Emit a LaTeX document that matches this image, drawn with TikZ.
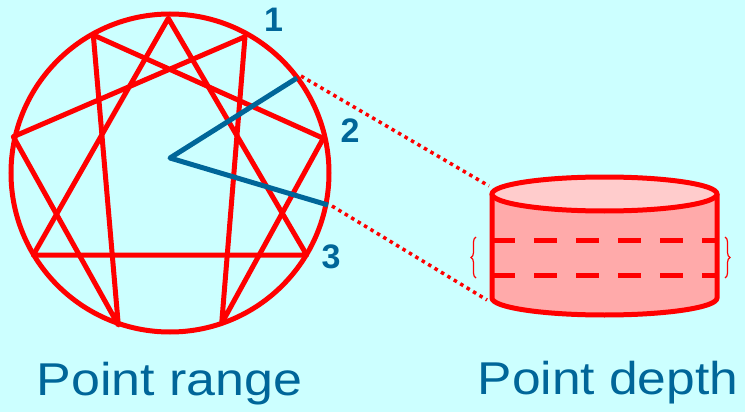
\documentclass[tikz,border=0pt]{standalone}
\usepackage{fontspec}
\setmainfont{Liberation Sans}
\usetikzlibrary{decorations.pathreplacing}
\definecolor{bgcol}{HTML}{CCFFFF}
\definecolor{tblue}{HTML}{006699}
\definecolor{cylbody}{HTML}{FFAAAA}
\definecolor{cyltop}{HTML}{FFCCCC}
\begin{document}
\begin{tikzpicture}[x=1pt,y=-1pt,
  starline/.style={draw=red,line width=5pt,line cap=round,line join=round},
  blueline/.style={draw=tblue,line width=5pt,line join=round},
  dotline/.style={draw=red,line width=3.5pt,dash pattern=on 3.5pt off 4pt},
  numlabel/.style={text=tblue,font=\fontsize{34}{34}\selectfont\bfseries,inner sep=0pt},
  caption/.style={text=tblue,font=\fontsize{46}{46}\selectfont,inner sep=0pt,anchor=base},
  bracestyle/.style={draw=red,line width=1.2pt,decorate,decoration={brace,amplitude=5pt}},
  dashline/.style={draw=red,line width=5pt,dash pattern=on 23pt off 19pt}]
\fill[bgcol] (0,0) rectangle (745,412);
\useasboundingbox (0,0) rectangle (745,412);

% enneagram circle
\node[circle,draw=red,line width=5pt,minimum size=318pt,inner sep=0pt] (ring) at (170,173) {};
\coordinate (T)  at (168.3,18.3);
\coordinate (UR) at (245,36.7);
\coordinate (R)  at (323.3,138.3);
\coordinate (LR) at (306.7,255);
\coordinate (BR) at (221.7,323.3);
\coordinate (BL) at (118.3,325);
\coordinate (LL) at (33.3,255);
\coordinate (L)  at (13.3,136.7);
\coordinate (UL) at (93.3,35);
\draw[starline] (T) -- (LR) -- (LL) -- cycle;
\draw[starline] (UR) -- (L) -- (BL) -- (UL) -- (R) -- (BR) -- cycle;

% blue angle
\coordinate (O)  at (170,158);
\coordinate (B1) at (297,78);
\coordinate (B2) at (328,205);
\draw[blueline] (B1) -- (O) -- (B2);

% labels
\node[numlabel] (n1) at (273.5,20) {1};
\node[numlabel] (n2) at (350,131) {2};
\node[numlabel] (n3) at (331,257) {3};

% cylinder
\path[fill=cylbody,draw=red,line width=5pt] (492,194) -- (492,298)
  arc[start angle=180,end angle=360,x radius=112.5pt,y radius=17pt] -- (717,194);
\draw[fill=cyltop,draw=red,line width=5pt] (604.5,194) ellipse [x radius=112.5pt,y radius=17pt];
\draw[dashline] (492,240) -- (717,240);
\draw[dashline] (492,275) -- (717,275);
\coordinate (CT) at (489,186);
\coordinate (CB) at (487,300);

% dotted connectors
\coordinate (D1) at (301,76);
\coordinate (D2) at (332,206);
\draw[dotline] (D1) -- (CT);
\draw[dotline] (D2) -- (CB);

% braces
\draw[bracestyle] (476,278) -- (476,237);
\draw[bracestyle] (725,237) -- (725,278);

% captions
\node[caption] (cap1) at (169.5,395) {\scalebox{1.13}[1]{Point range}};
\node[caption] (cap2) at (608,394) {\scalebox{1.12}[1]{Point depth}};
\end{tikzpicture}
\end{document}
